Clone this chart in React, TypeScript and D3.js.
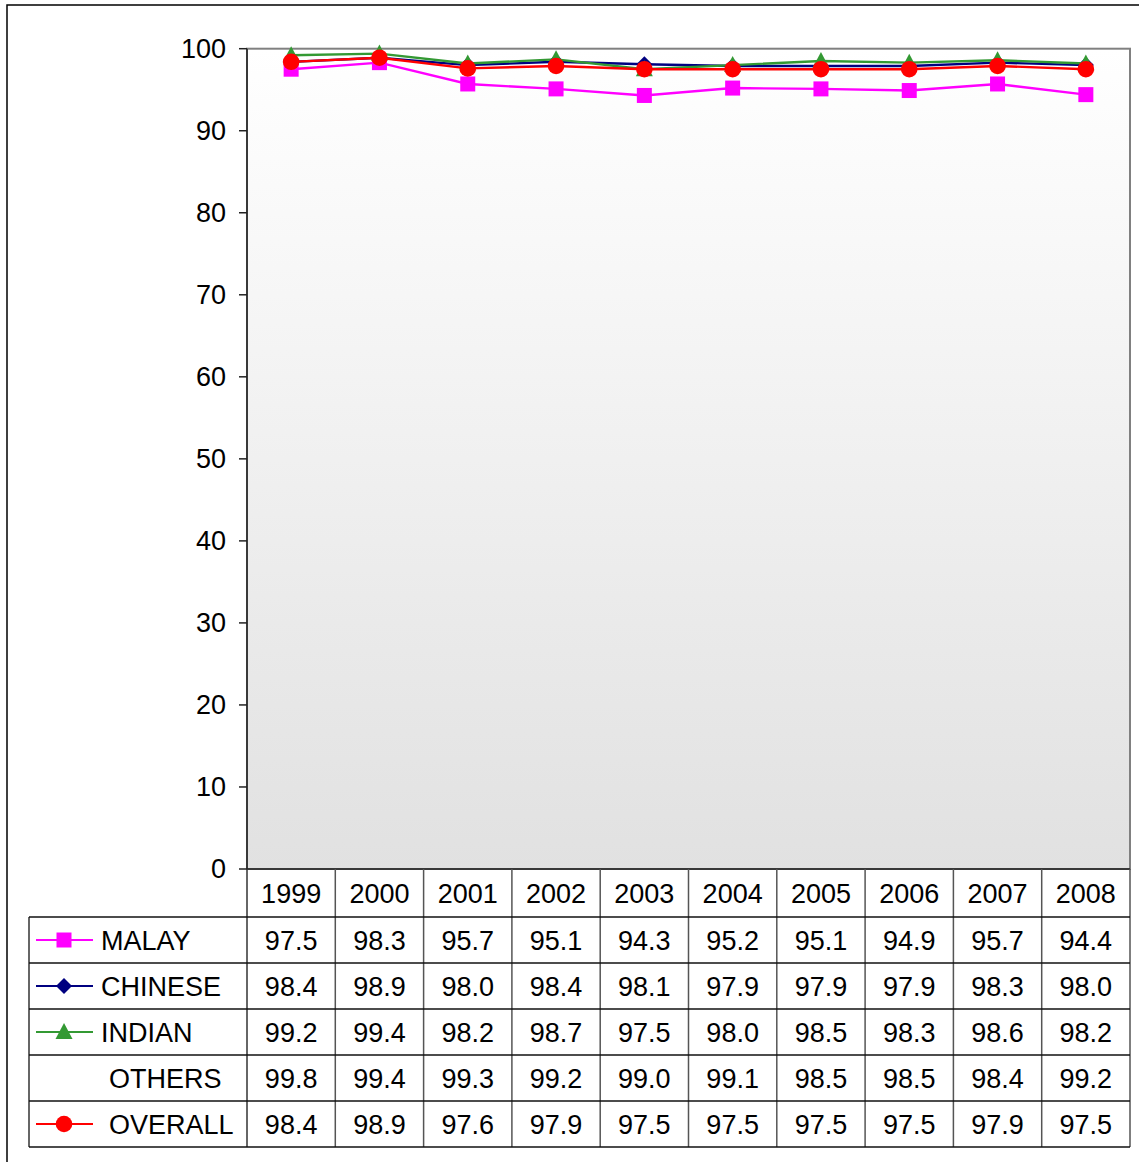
import * as d3 from 'd3';
import React from 'react';

const years = ['1999', '2000', '2001', '2002', '2003', '2004', '2005', '2006', '2007', '2008'];
const malay = [97.5, 98.3, 95.7, 95.1, 94.3, 95.2, 95.1, 94.9, 95.7, 94.4];
const chinese = [98.4, 98.9, 98.0, 98.4, 98.1, 97.9, 97.9, 97.9, 98.3, 98.0];
const indian = [99.2, 99.4, 98.2, 98.7, 97.5, 98.0, 98.5, 98.3, 98.6, 98.2];
const others = [99.8, 99.4, 99.3, 99.2, 99.0, 99.1, 98.5, 98.5, 98.4, 99.2];
const overall = [98.4, 98.9, 97.6, 97.9, 97.5, 97.5, 97.5, 97.5, 97.9, 97.5];
const yTicks = [0, 10, 20, 30, 40, 50, 60, 70, 80, 90, 100];

const series = [
  { name: 'MALAY', values: malay, color: '#ff00ff', marker: 'square', plotted: true, labelX: 101 },
  { name: 'CHINESE', values: chinese, color: '#000080', marker: 'diamond', plotted: true, labelX: 101 },
  { name: 'INDIAN', values: indian, color: '#339933', marker: 'triangle', plotted: true, labelX: 101 },
  { name: 'OTHERS', values: others, color: 'none', marker: 'none', plotted: false, labelX: 109 },
  { name: 'OVERALL', values: overall, color: '#ff0000', marker: 'circle', plotted: true, labelX: 109 },
];

const font = '"Liberation Sans", Arial, sans-serif';
const fs = 27;

function Marker({ type, x, y, color }: any) {
  if (type === 'square') {
    return <rect x={x - 7.5} y={y - 7.5} width={15} height={15} fill={color} />;
  }
  if (type === 'diamond') {
    return <path d={`M${x},${y - 8}L${x + 8},${y}L${x},${y + 8}L${x - 8},${y}Z`} fill={color} />;
  }
  if (type === 'triangle') {
    return <path d={`M${x},${y - 9}L${x + 8.5},${y + 7}L${x - 8.5},${y + 7}Z`} fill={color} />;
  }
  if (type === 'circle') {
    return <circle cx={x} cy={y} r={8.3} fill={color} />;
  }
  return null;
}

export default function App() {
  const width = 1139;
  const height = 1162;
  const plot = { left: 247, right: 1130, top: 48.7, bottom: 869 };
  const tableLeft = 29;
  const headerBottom = 917;
  const rowH = 46;

  const x = d3.scaleBand().domain(years).range([plot.left, plot.right]);
  const y = d3.scaleLinear().domain([0, 100]).range([plot.bottom, plot.top]);
  const rowY = d3.scaleLinear().domain([0, 5]).range([headerBottom, headerBottom + 5 * rowH]);

  const line = d3.line<number>()
    .x((_, i) => (x(years[i]) || 0) + x.bandwidth() / 2)
    .y((d) => y(d));

  return (
    <svg width={width} height={height} style={{ position: 'absolute', left: 0, top: 0, fontFamily: font }}>
      <defs>
        <linearGradient id="bg" x1="0" y1="0" x2="0" y2="1">
          <stop offset="0" stopColor="#ffffff" />
          <stop offset="1" stopColor="#e1e1e1" />
        </linearGradient>
      </defs>
      <rect x={0} y={0} width={width} height={height} fill="#fff" />
      <rect x={7} y={5} width={1140} height={1170} fill="none" stroke="#000" strokeWidth={1.5} />

      {/* plot area */}
      <rect x={plot.left} y={plot.top} width={plot.right - plot.left} height={plot.bottom - plot.top}
        fill="url(#bg)" stroke="#808080" strokeWidth={2} />
      <line x1={plot.left} x2={plot.left} y1={plot.top} y2={plot.bottom} stroke="#222" strokeWidth={1.5} />
      <line x1={plot.left} x2={plot.right} y1={plot.bottom} y2={plot.bottom} stroke="#222" strokeWidth={1.5} />

      {/* y axis */}
      {yTicks.map((t) => (
        <g key={t}>
          <line x1={plot.left - 8} x2={plot.left} y1={y(t)} y2={y(t)} stroke="#222" strokeWidth={1.5} />
          <text x={226} y={y(t)} dy="0.35em" textAnchor="end" fontSize={fs}>{t}</text>
        </g>
      ))}

      {/* lines */}
      {series.filter((s) => s.plotted).map((s) => (
        <g key={s.name}>
          <path d={line(s.values) || ''} fill="none" stroke={s.color} strokeWidth={2.4} />
          {s.values.map((v, i) => (
            <Marker key={i} type={s.marker} x={(x(years[i]) || 0) + x.bandwidth() / 2} y={y(v)} color={s.color} />
          ))}
        </g>
      ))}

      {/* data table */}
      {years.map((yr) => (
        <text key={yr} x={(x(yr) || 0) + x.bandwidth() / 2} y={(plot.bottom + headerBottom) / 2} dy="0.36em"
          textAnchor="middle" fontSize={fs}>{yr}</text>
      ))}
      {years.map((yr) => (
        <line key={'v' + yr} x1={(x(yr) || 0) + x.bandwidth()} x2={(x(yr) || 0) + x.bandwidth()}
          y1={plot.bottom} y2={rowY(5)} stroke="#555" strokeWidth={1.5} />
      ))}
      <line x1={plot.left} x2={plot.left} y1={plot.bottom} y2={rowY(5)} stroke="#333" strokeWidth={1.5} />
      <line x1={tableLeft} x2={tableLeft} y1={rowY(0)} y2={rowY(5)} stroke="#333" strokeWidth={1.5} />
      {d3.range(6).map((r) => (
        <line key={'h' + r} x1={tableLeft} x2={plot.right} y1={rowY(r)} y2={rowY(r)} stroke="#111" strokeWidth={1.5} />
      ))}
      {series.map((s, r) => {
        const cy = (rowY(r) + rowY(r + 1)) / 2;
        return (
          <g key={'row' + s.name}>
            {s.plotted && (
              <g>
                <line x1={36} x2={93} y1={cy} y2={cy} stroke={s.color} strokeWidth={2} />
                <Marker type={s.marker} x={64} y={cy} color={s.color} />
              </g>
            )}
            <text x={s.labelX} y={cy} dy="0.36em" fontSize={fs}>{s.name}</text>
            {s.values.map((v, i) => (
              <text key={i} x={(x(years[i]) || 0) + x.bandwidth() / 2} y={cy} dy="0.36em"
                textAnchor="middle" fontSize={fs}>{v.toFixed(1)}</text>
            ))}
          </g>
        );
      })}
    </svg>
  );
}
